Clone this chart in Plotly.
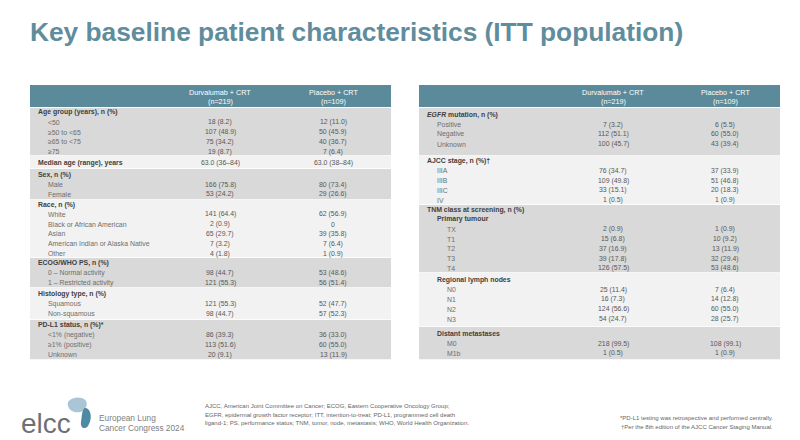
import plotly.graph_objects as go

# ---------------- data ----------------
title_text = "Key baseline patient characteristics (ITT population)"
col_names = ["Durvalumab + CRT", "Placebo + CRT"]
col_ns = ["(n=219)", "(n=109)"]

age_labels = ["<50", "≥50 to <65", "≥65 to <75", "≥75"]
age_durv = ["18 (8.2)", "107 (48.9)", "75 (34.2)", "19 (8.7)"]
age_plac = ["12 (11.0)", "50 (45.9)", "40 (36.7)", "7 (6.4)"]

median_durv = "63.0 (36–84)"
median_plac = "63.0 (38–84)"

sex_labels = ["Male", "Female"]
sex_durv = ["166 (75.8)", "53 (24.2)"]
sex_plac = ["80 (73.4)", "29 (26.6)"]

race_labels = ["White", "Black or African American", "Asian",
               "American Indian or Alaska Native", "Other"]
race_durv = ["141 (64.4)", "2 (0.9)", "65 (29.7)", "7 (3.2)", "4 (1.8)"]
race_plac = ["62 (56.9)", "0", "39 (35.8)", "7 (6.4)", "1 (0.9)"]

ecog_labels = ["0 – Normal activity", "1 – Restricted activity"]
ecog_durv = ["98 (44.7)", "121 (55.3)"]
ecog_plac = ["53 (48.6)", "56 (51.4)"]

hist_labels = ["Squamous", "Non-squamous"]
hist_durv = ["121 (55.3)", "98 (44.7)"]
hist_plac = ["52 (47.7)", "57 (52.3)"]

pdl1_labels = ["<1% (negative)", "≥1% (positive)", "Unknown"]
pdl1_durv = ["86 (39.3)", "113 (51.6)", "20 (9.1)"]
pdl1_plac = ["36 (33.0)", "60 (55.0)", "13 (11.9)"]

egfr_labels = ["Positive", "Negative", "Unknown"]
egfr_durv = ["7 (3.2)", "112 (51.1)", "100 (45.7)"]
egfr_plac = ["6 (5.5)", "60 (55.0)", "43 (39.4)"]

ajcc_labels = ["IIIA", "IIIB", "IIIC", "IV"]
ajcc_durv = ["76 (34.7)", "109 (49.8)", "33 (15.1)", "1 (0.5)"]
ajcc_plac = ["37 (33.9)", "51 (46.8)", "20 (18.3)", "1 (0.9)"]

t_labels = ["TX", "T1", "T2", "T3", "T4"]
t_durv = ["2 (0.9)", "15 (6.8)", "37 (16.9)", "39 (17.8)", "126 (57.5)"]
t_plac = ["1 (0.9)", "10 (9.2)", "13 (11.9)", "32 (29.4)", "53 (48.6)"]

n_labels = ["N0", "N1", "N2", "N3"]
n_durv = ["25 (11.4)", "16 (7.3)", "124 (56.6)", "54 (24.7)"]
n_plac = ["7 (6.4)", "14 (12.8)", "60 (55.0)", "28 (25.7)"]

m_labels = ["M0", "M1b"]
m_durv = ["218 (99.5)", "1 (0.5)"]
m_plac = ["108 (99.1)", "1 (0.9)"]

abbrev_lines = [
    "AJCC, American Joint Committee on Cancer; ECOG, Eastern Cooperative Oncology Group;",
    "EGFR, epidermal growth factor receptor; ITT, intention-to-treat; PD-L1, programmed cell death",
    "ligand-1; PS, performance status; TNM, tumor, node, metastasis; WHO, World Health Organization.",
]
footnote_lines = [
    "*PD-L1 testing was retrospective and performed centrally.",
    "†Per the 8th edition of the AJCC Cancer Staging Manual.",
]
congress_lines = ["European Lung", "Cancer Congress 2024"]


# --------------- build rows ----------------
def items(labels, durv, plac, level=1):
    return [(l, level, False, d, p) for l, d, p in zip(labels, durv, plac)]


left_bands = [
    [("Age group (years), n (%)", 0, True, "", "")] + items(age_labels, age_durv, age_plac),
    [("Median age (range), years", 0, True, median_durv, median_plac)],
    [("Sex, n (%)", 0, True, "", "")] + items(sex_labels, sex_durv, sex_plac),
    [("Race, n (%)", 0, True, "", "")] + items(race_labels, race_durv, race_plac),
    [("ECOG/WHO PS, n (%)", 0, True, "", "")] + items(ecog_labels, ecog_durv, ecog_plac),
    [("Histology type, n (%)", 0, True, "", "")] + items(hist_labels, hist_durv, hist_plac),
    [("PD-L1 status, n (%)*", 0, True, "", "")] + items(pdl1_labels, pdl1_durv, pdl1_plac),
]
right_bands = [
    [("<i>EGFR</i> mutation, n (%)", 0, True, "", "")] + items(egfr_labels, egfr_durv, egfr_plac),
    [("AJCC stage, n (%)†", 0, True, "", "")] + items(ajcc_labels, ajcc_durv, ajcc_plac),
    [("TNM class at screening, n (%)", 0, True, "", ""),
     ("Primary tumour", 1, True, "", "")] + items(t_labels, t_durv, t_plac, 2),
    [("Regional lymph nodes", 1, True, "", "")] + items(n_labels, n_durv, n_plac, 2),
    [("Distant metastases", 1, True, "", "")] + items(m_labels, m_durv, m_plac, 2),
]

# layout constants (pixel positions of band edges)
left_edges = [100, 148, 161, 192, 250, 280, 312, 352]
right_edges = [100, 148, 197, 265, 319, 352]

W, H = 800, 440
TEAL = "#5b8a9a"
GRAY = "#d9d9d9"
LIGHT = "#f2f2f2"
SANS = "Liberation Sans, Arial, sans-serif"

shapes = []
annotations = []


def ann(x, y, text, size, color, xanchor="left", bold=False, align="left"):
    if bold:
        text = "<b>" + text + "</b>"
    annotations.append(dict(x=x, y=y, xref="x", yref="y", text=text, showarrow=False,
                            xanchor=xanchor, yanchor="middle", align=align,
                            font=dict(size=size, color=color, family=SANS),
                            borderpad=0))


def rect(x0, y0, x1, y1, color):
    shapes.append(dict(type="rect", xref="x", yref="y", x0=x0, y0=y0, x1=x1, y1=y1,
                       fillcolor=color, line=dict(width=0), layer="below"))


def table(x0, x1, col_x, bands, edges, top=77, head_bot=99):
    rect(x0, top, x1, head_bot, TEAL)
    for cx, name, n in zip(col_x, col_names, col_ns):
        ann(cx, top + 7, name, 7.2, "white", xanchor="center")
        ann(cx, top + 16, n, 7.2, "white", xanchor="center")
    pitch = 9.8
    for i, band in enumerate(bands):
        y0, y1 = edges[i], edges[i + 1]
        rect(x0, y0, x1, y1 - 0.7, GRAY if i % 2 == 0 else LIGHT)
        off = min((y1 - y0 - len(band) * pitch) / 2 + pitch / 2, 6.8)
        for j, (label, level, bold, d, p) in enumerate(band):
            ty = y0 + off + pitch * j
            ann(x0 + 6.5 + 10 * level, ty, label, 6.9,
                "#404040" if bold else "#6e6e6e", bold=bold)
            if d:
                ann(col_x[0], ty, d, 6.9, "#585858", xanchor="center")
                ann(col_x[1], ty, p, 6.9, "#585858", xanchor="center")


table(22, 383, [212, 325], left_bands, left_edges)
table(411, 772, [605, 717], right_bands, right_edges)

# title
ann(21, 24, title_text, 26.3, "#5f8d9d", bold=True)

# footer: logo
ann(12, 415, "elcc", 28, "#707070")
shapes.append(dict(type="path", xref="x", yref="y",
                   path="M 60,398 C 58,392 66,388 74,390 C 80,392 80,398 76,402 C 72,406 62,405 60,398 Z",
                   fillcolor="#a9c5d6", line=dict(width=0)))
shapes.append(dict(type="path", xref="x", yref="y",
                   path="M 78,400 C 84,402 84,412 80,418 C 77,422 72,420 73,414 C 74,408 74,399 78,400 Z",
                   fillcolor="#4d8aa3", line=dict(width=0)))
for k, line in enumerate(congress_lines):
    ann(90, 410 + 10 * k, line, 8.3, "#808080")
for k, line in enumerate(abbrev_lines):
    ann(196, 398 + 8.5 * k, line, 6, "#666666")
for k, line in enumerate(footnote_lines):
    ann(766, 410 + 8.5 * k, line, 6, "#666666", xanchor="right")

fig = go.Figure()
fig.update_layout(
    width=W, height=H, autosize=False,
    margin=dict(l=0, r=0, t=0, b=0),
    paper_bgcolor="white", plot_bgcolor="white",
    xaxis=dict(range=[0, W], visible=False, fixedrange=True),
    yaxis=dict(range=[H, 0], visible=False, fixedrange=True),
    shapes=shapes, annotations=annotations, showlegend=False,
)
fig.write_html("out.html")
